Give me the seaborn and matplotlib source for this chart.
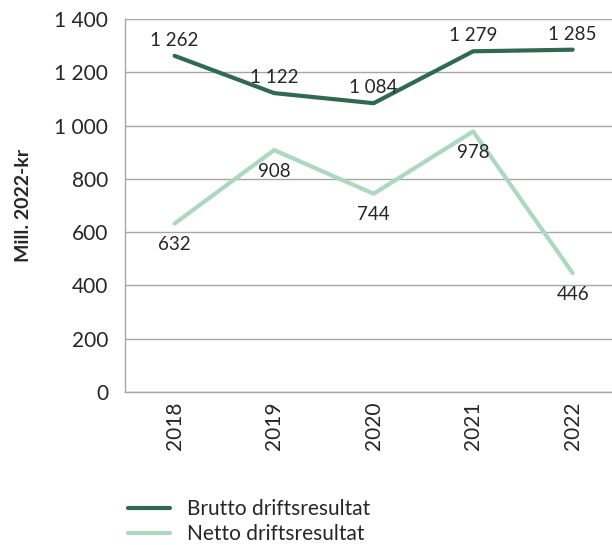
import pandas as pd
import matplotlib.pyplot as plt
import seaborn as sns

# Data
years = ["2018", "2019", "2020", "2021", "2022"]
brutto = [1262, 1122, 1084, 1279, 1285]
netto = [632, 908, 744, 978, 446]
series_names = ["Brutto driftsresultat", "Netto driftsresultat"]
y_ticks = [0, 200, 400, 600, 800, 1000, 1200, 1400]


def fmt(v):
    return f"{v:,}".replace(",", " ")


def plot_chart():
    sns.set_style("white")
    plt.rcParams['font.family'] = ['Lato', 'DejaVu Sans']

    df = pd.DataFrame({"year": years * 2,
                       "value": brutto + netto,
                       "serie": [series_names[0]] * 5 + [series_names[1]] * 5})

    fig = plt.figure(figsize=(6.12, 5.45), dpi=100)
    ax = fig.add_axes([0.204, 0.281, 0.80, 0.684])

    colors = {series_names[0]: "#2e6a50", series_names[1]: "#acd8bf"}
    sns.lineplot(data=df, x="year", y="value", hue="serie", palette=colors,
                 ax=ax, linewidth=3, sort=False)

    # Data labels
    for i, v in enumerate(brutto):
        ax.annotate(fmt(v), (i, v), xytext=(0, 5), textcoords="offset points",
                    ha="center", va="bottom", fontsize=13.5)
    for i, v in enumerate(netto):
        ax.annotate(fmt(v), (i, v), xytext=(0, -9), textcoords="offset points",
                    ha="center", va="top", fontsize=13.5)

    ax.set_ylim(0, 1400)
    ax.set_xlim(-0.5, 4.42)
    ax.set_yticks(y_ticks)
    ax.set_yticklabels([fmt(t) for t in y_ticks], fontsize=15)
    ax.tick_params(axis="x", labelrotation=90, labelsize=15, length=0, pad=7)
    ax.tick_params(axis="y", length=0, pad=12)
    ax.yaxis.grid(True, color="#a6a6a6", linewidth=1)
    ax.set_axisbelow(True)
    for side in ["top", "right"]:
        ax.spines[side].set_visible(False)
    for side in ["left", "bottom"]:
        ax.spines[side].set_color("#a6a6a6")
        ax.spines[side].set_linewidth(1)

    ax.set_xlabel("")
    ax.set_ylabel("Mill. 2022-kr", fontsize=14, fontweight="bold", labelpad=16)

    handles, labels = ax.get_legend_handles_labels()
    ax.legend(handles, labels, loc="upper left", bbox_to_anchor=(-0.01, -0.265),
              frameon=False, fontsize=15, handlelength=2.0, labelspacing=0.25,
              borderaxespad=0, handletextpad=0.8)

    fig.savefig("out.png", dpi=100)


if __name__ == "__main__":
    plot_chart()
